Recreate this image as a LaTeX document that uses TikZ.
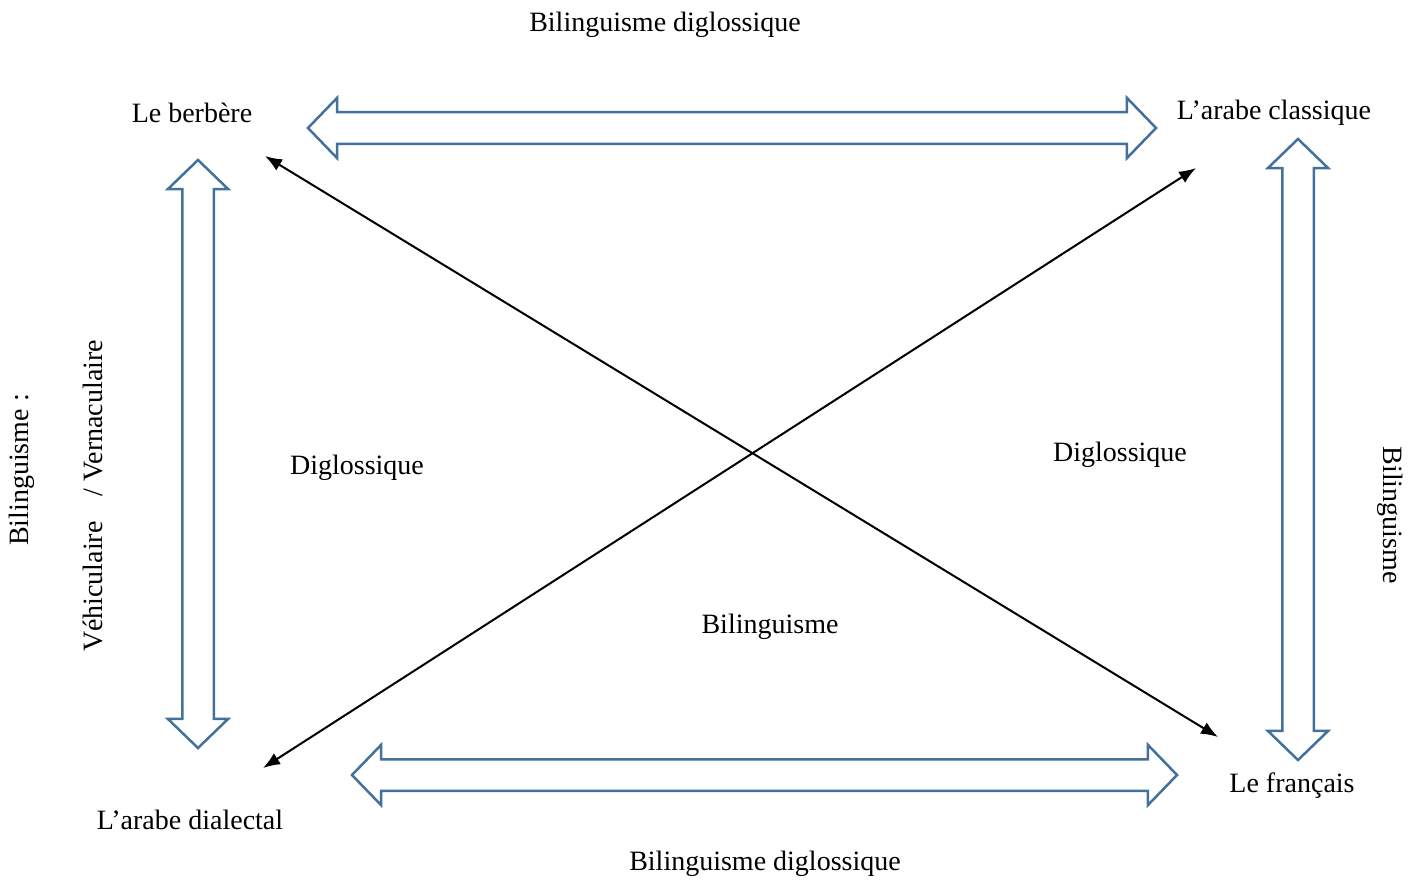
\documentclass[tikz,border=0pt]{standalone}
\usepackage{fontspec}
\setmainfont{Liberation Serif}
\usepackage{tikz}
\usetikzlibrary{arrows.meta,positioning,shapes.arrows}
\definecolor{blockblue}{RGB}{65,113,156}

\begin{document}
\begin{tikzpicture}[
  x=1pt, y=-1pt,
  font=\fontsize{28}{32}\selectfont,
  lang/.style={inner sep=0pt},
  dbl/.style={double arrow, draw=blockblue, line width=2.5pt, double arrow head extend=14.5pt,
    inner xsep=0pt, inner ysep=14.5pt, double arrow tip angle=92, outer sep=0pt},
  arr/.style={{Latex[length=17pt,width=13pt]}-{Latex[length=17pt,width=13pt]}, line width=2pt}
]
\useasboundingbox (0,0) rectangle (1423,880);

% languages
\node[lang] (ber) at (192,113) {Le berbère};
\node[lang] (cla) at (1274,113) {L’arabe classique};
\node[lang] (dia) at (190,820) {L’arabe dialectal};
\node[lang] (fra) at (1292,786) {Le français};

% relations
\node[lang] (top) at (665,25) {Bilinguisme diglossique};
\node[lang] (bot) at (765,864) {Bilinguisme diglossique};
\node[lang] (dgl) at (357,468) {Diglossique};
\node[lang] (dgr) at (1120,455) {Diglossique};
\node[lang] (bil) at (770,627) {Bilinguisme};
\node[lang, rotate=90] (bil1) at (22,470) {Bilinguisme :};
\node[lang, rotate=90] (veh) at (93,496) {Véhiculaire\hspace{18pt} / Vernaculaire};
\node[lang, rotate=-90] (bil2) at (1390,515) {Bilinguisme};

% block arrows
\node[dbl, minimum height=848pt] (dtop) at (732,128) {};
\node[dbl, minimum height=825pt] (dbot) at (764.5,775) {};
\node[dbl, minimum height=588pt, rotate=90] (dlft) at (198,454) {};
\node[dbl, minimum height=621pt, rotate=90] (drgt) at (1298,449.5) {};

% crossing arrows
\coordinate (berA) at (265,156);
\coordinate (fraA) at (1218,737);
\coordinate (claA) at (1196,168);
\coordinate (diaA) at (263,768);
\draw[arr] (berA) -- (fraA);
\draw[arr] (diaA) -- (claA);
\end{tikzpicture}
\end{document}
